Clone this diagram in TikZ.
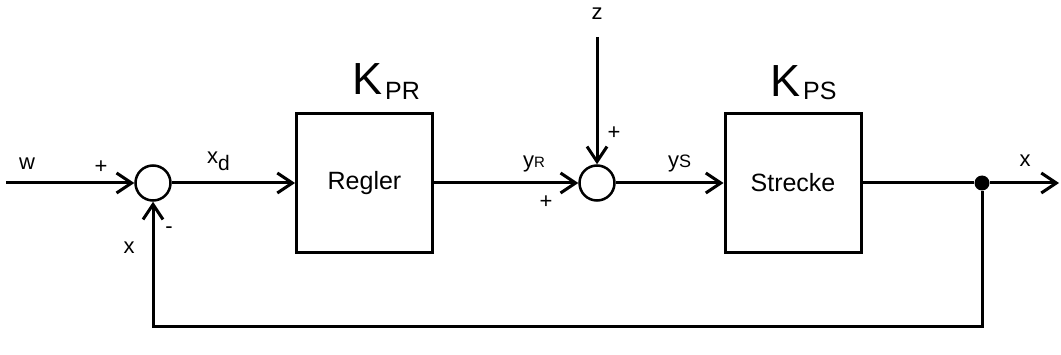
\documentclass[tikz,border=0pt]{standalone}
\usepackage{fontspec}
\setmainfont{Liberation Sans}
\usetikzlibrary{arrows.meta, positioning}
\tikzstyle{arrow} = [line width=3pt, -{Straight Barb[length=15pt, width=20pt]}]
\tikzstyle{block} = [draw, line width=3pt, minimum width=136pt, minimum height=138pt, font=\fontsize{25}{29}\selectfont]
\tikzstyle{sum} = [draw, circle, line width=2.5pt, minimum size=35pt, inner sep=0pt]
\tikzstyle{lbl} = [inner sep=0pt, font=\fontsize{22}{26}\selectfont]
\tikzstyle{gain} = [inner sep=0pt, anchor=base west, font=\fontsize{45}{50}\selectfont]
\newcommand{\sub}[1]{{\fontsize{15}{17}\selectfont #1}}

\begin{document}
\begin{tikzpicture}[x=1pt, y=1pt]
    \useasboundingbox (0,0) rectangle (1061,354);
    % blocks
    \node[sum] (sumA) at (153,171) {};
    \node[block] (regler) at (364.5,171) {Regler};
    \node[sum] (sumB) at (597,171) {};
    \node[block] (strecke) at (793,171) {Strecke};
    \node[circle, fill, inner sep=0pt, minimum size=15pt] (branch) at (982,171) {};
    \coordinate (w) at (6,171);
    \coordinate (z) at (597,317);
    \coordinate (x) at (1059,171);
    \coordinate (fb) at (560,28);
    % connections
    \draw[arrow] (w) -- (sumA.west);
    \draw[arrow] (sumA.east) -- (regler.west);
    \draw[arrow] (regler.east) -- (sumB.west);
    \draw[arrow] (z) -- (sumB.north);
    \draw[arrow] (sumB.east) -- (strecke.west);
    \draw[line width=3pt] (strecke.east) -- (branch);
    \draw[arrow] (branch) -- (x);
    \draw[arrow] (branch) -- (branch |- fb) -| (sumA.south);
    % labels
    \node[gain] (kpr) at (352,259) {K\kern3pt\raisebox{-5pt}{\fontsize{25}{28}\selectfont PR}};
    \node[gain] (kps) at (770,257) {K\kern3pt\raisebox{-3pt}{\fontsize{25}{28}\selectfont PS}};
    \node[lbl] (lw) at (27,190) {w};
    \node[lbl] (pA) at (101,187) {+};
    \node[lbl] (mA) at (169,124) {-};
    \node[lbl] (lxfb) at (129,106) {x};
    \node[lbl, anchor=base west] (lxd) at (207,190) {x\raisebox{-7pt}{\fontsize{21}{24}\selectfont d}};
    \node[lbl, anchor=base west] (lyr) at (523,186) {y\sub{R}};
    \node[lbl, anchor=base west] (lys) at (668,186) {y{\fontsize{18}{20}\selectfont S}};
    \node[lbl] (pB) at (546,152) {+};
    \node[lbl] (pZ) at (614,221) {+};
    \node[lbl] (lz) at (597,340) {z};
    \node[lbl] (lx) at (1025,193) {x};
\end{tikzpicture}
\end{document}
